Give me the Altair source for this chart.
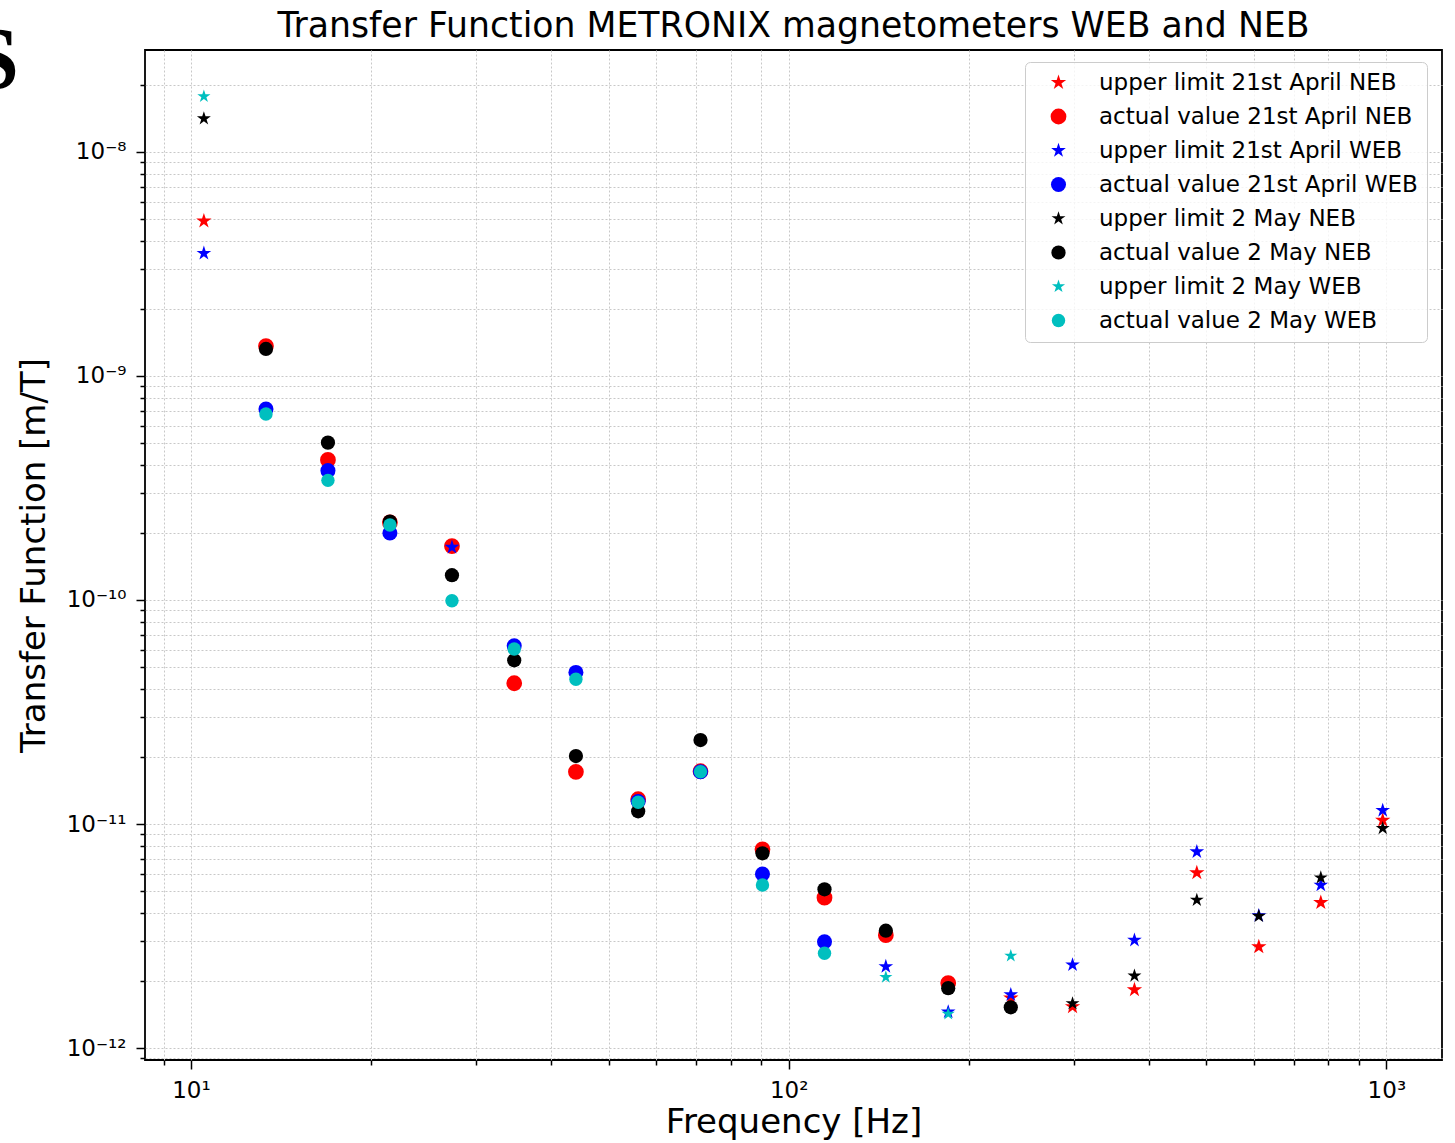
import altair as alt
import pandas as pd

# Frequencies of the measured lines [Hz]
FREQ_HZ = [10.51, 13.35, 16.95, 21.52, 27.33, 34.74, 44.06, 56.0, 71.2, 90.4,
           114.8, 145.4, 184.9, 235.3, 298.5, 378.9, 481.8, 611.8, 776.8, 986.0]

# Transfer function [m/T] per magnetometer and day.
# Flags: "U" = upper limit, "A" = actual value, "-" = no value
NEB_21_APRIL = [4.92e-9, 1.36e-9, 4.22e-10, 2.22e-10, 1.74e-10, 4.25e-11, 1.71e-11,
                1.29e-11, 1.72e-11, 7.71e-12, 4.69e-12, 3.19e-12, 1.95e-12, 1.67e-12,
                1.53e-12, 1.82e-12, 6.06e-12, 2.83e-12, 4.46e-12, 1.04e-11]
NEB_21_APRIL_FLAGS = "UAAAAAAAAAAAAUUUUUUU"

WEB_21_APRIL = [3.53e-9, 7.12e-10, 3.78e-10, 1.99e-10, 1.72e-10, 6.25e-11, 4.75e-11,
                1.26e-11, 1.71e-11, 5.98e-12, 2.98e-12, 2.31e-12, 1.45e-12, 1.73e-12,
                2.35e-12, 3.03e-12, 7.52e-12, 3.90e-12, 5.34e-12, 1.15e-11]
WEB_21_APRIL_FLAGS = "UAAAUAAAAAAUUUUUUUUU"

NEB_2_MAY = [1.41e-8, 1.32e-9, 5.04e-10, 2.24e-10, 1.29e-10, 5.38e-11, 2.01e-11,
             1.14e-11, 2.37e-11, 7.40e-12, 5.11e-12, 3.34e-12, 1.85e-12, 1.52e-12,
             1.58e-12, 2.10e-12, 4.58e-12, 3.88e-12, 5.76e-12, 9.57e-12]
NEB_2_MAY_FLAGS = "UAAAAAAAAAAAAAUUUUUU"

WEB_2_MAY = [1.77e-8, 6.77e-10, 3.42e-10, 2.16e-10, 9.93e-11, 6.04e-11, 4.43e-11,
             1.25e-11, 1.71e-11, 5.34e-12, 2.65e-12, 2.07e-12, 1.42e-12, 2.58e-12,
             None, None, None, None, None, None]
WEB_2_MAY_FLAGS = "UAAAAAAAAAAUUU------"

TITLE = "Transfer Function METRONIX magnetometers WEB and NEB"

# Five-pointed star in the unit symbol box (inner radius 0.382)
STAR_PATH = ("M0,-1L0.2245,-0.309L0.951,-0.309L0.363,0.118L0.588,0.809L0,0.382"
             "L-0.588,0.809L-0.363,0.118L-0.951,-0.309L-0.2245,-0.309Z")

CAMPAIGNS = [
    ("21st April NEB", NEB_21_APRIL, NEB_21_APRIL_FLAGS, "#ff0000"),
    ("21st April WEB", WEB_21_APRIL, WEB_21_APRIL_FLAGS, "#0000ff"),
    ("2 May NEB", NEB_2_MAY, NEB_2_MAY_FLAGS, "#000000"),
    ("2 May WEB", WEB_2_MAY, WEB_2_MAY_FLAGS, "#00bfbf"),
]
KINDS = [("U", "upper limit", STAR_PATH, 260), ("A", "actual value", "circle", 180)]

X_LABELS = {1: "10¹", 2: "10²", 3: "10³"}
Y_LABELS = {-8: "10⁻⁸", -9: "10⁻⁹", -10: "10⁻¹⁰", -11: "10⁻¹¹", -12: "10⁻¹²"}

X_DOMAIN = [8.377, 1239.0]
Y_DOMAIN = [8.84e-13, 2.853e-8]

PLOT_W, PLOT_H = 1297, 1010

# Long table, one series per campaign and kind, in drawing order
rows = []
series_names, series_colors, series_shapes, series_sizes = [], [], [], []
for name, values, flags, color in CAMPAIGNS:
    for code, prefix, shape, size in KINDS:
        label = f"{prefix} {name}"
        series_names.append(label)
        series_colors.append(color)
        series_shapes.append(shape)
        series_sizes.append(size)
        for f, v, flag in zip(FREQ_HZ, values, flags):
            if v is not None and flag == code:
                rows.append({"freq": f, "tf": v, "series": label})
df = pd.DataFrame(rows)


def log_ticks(lo, hi, first_exp, last_exp):
    ticks = []
    for e in range(first_exp, last_exp + 1):
        for m in range(1, 10):
            v = m * 10.0 ** e
            if lo <= v <= hi:
                ticks.append(v)
    return ticks


X_TICKS = log_ticks(X_DOMAIN[0], X_DOMAIN[1], 0, 3)
Y_TICKS = log_ticks(Y_DOMAIN[0], Y_DOMAIN[1], -13, -8)

EXP = "round(log(datum.value) / LN10)"
IS_MAJOR = f"abs(log(datum.value) / LN10 - {EXP}) < 1e-6"


def label_expr(labels):
    expr = "''"
    for e, text in labels.items():
        expr = f"{EXP} == {e} ? '{text}' : ({expr})"
    return f"{IS_MAJOR} ? ({expr}) : ''"


# decade ticks long, intermediate ticks short
tick_size = {"condition": {"test": IS_MAJOR, "value": 9}, "value": 5}

common_axis = dict(
    grid=True, gridColor="#c8c8c8", gridDash=[2, 2], gridWidth=1,
    domain=False, tickColor="black", tickWidth=1.5, tickSize=tick_size,
    labelFont="DejaVu Sans", labelFontSize=23, labelColor="black",
    labelOverlap=False, labelFlush=False,
    titleFont="DejaVu Sans", titleFontSize=34, titleFontWeight="normal",
    titleColor="black",
)

x_axis = alt.Axis(values=X_TICKS, labelExpr=label_expr(X_LABELS),
                  title="Frequency [Hz]", labelPadding=10, titlePadding=3,
                  orient="bottom", **common_axis)
y_axis = alt.Axis(values=Y_TICKS, labelExpr=label_expr(Y_LABELS),
                  title="Transfer Function [m/T]", labelPadding=10,
                  titlePadding=15, orient="left", **common_axis)

legend = alt.Legend(
    title=None, orient="none", legendX=880, legendY=12,
    labelFont="DejaVu Sans", labelFontSize=23, labelColor="black",
    labelLimit=400, fillColor="rgba(255,255,255,0.8)", strokeColor="#cccccc",
    cornerRadius=5, padding=9, rowPadding=10, labelOffset=29, symbolOffset=13,
)

points = alt.Chart(df).mark_point(filled=True, opacity=1).encode(
    x=alt.X("freq:Q", scale=alt.Scale(type="log", domain=X_DOMAIN, nice=False),
            axis=x_axis),
    y=alt.Y("tf:Q", scale=alt.Scale(type="log", domain=Y_DOMAIN, nice=False),
            axis=y_axis),
    color=alt.Color("series:N", scale=alt.Scale(domain=series_names, range=series_colors),
                    legend=legend),
    shape=alt.Shape("series:N", scale=alt.Scale(domain=series_names, range=series_shapes),
                    legend=legend),
    size=alt.Size("series:N", scale=alt.Scale(domain=series_names, range=series_sizes),
                  legend=legend),
)

# Chart title, centred over the plot area
title_text = alt.Chart(pd.DataFrame({"t": [TITLE]})).mark_text(
    align="center", baseline="alphabetic", font="DejaVu Sans",
    fontSize=34.7, color="black",
).encode(text="t:N", x=alt.value(PLOT_W / 2), y=alt.value(-13.5))

# Cut-off letter at the left page edge
page_letter = alt.Chart(pd.DataFrame({"t": ["S"]})).mark_text(
    align="right", baseline="alphabetic", font="Liberation Serif",
    fontWeight="bold", fontSize=88, color="black",
).encode(text="t:N", x=alt.value(-126), y=alt.value(38))

chart = alt.layer(points, title_text, page_letter).properties(
    width=PLOT_W,
    height=PLOT_H,
    background="white",
    autosize=alt.AutoSizeParams(type="none"),
    padding={"left": 145, "top": 50, "right": 13, "bottom": 83},
).configure_view(
    stroke="black", strokeWidth=1.8
)

chart.save("out.html", embed_options={"renderer": "svg", "actions": False})
